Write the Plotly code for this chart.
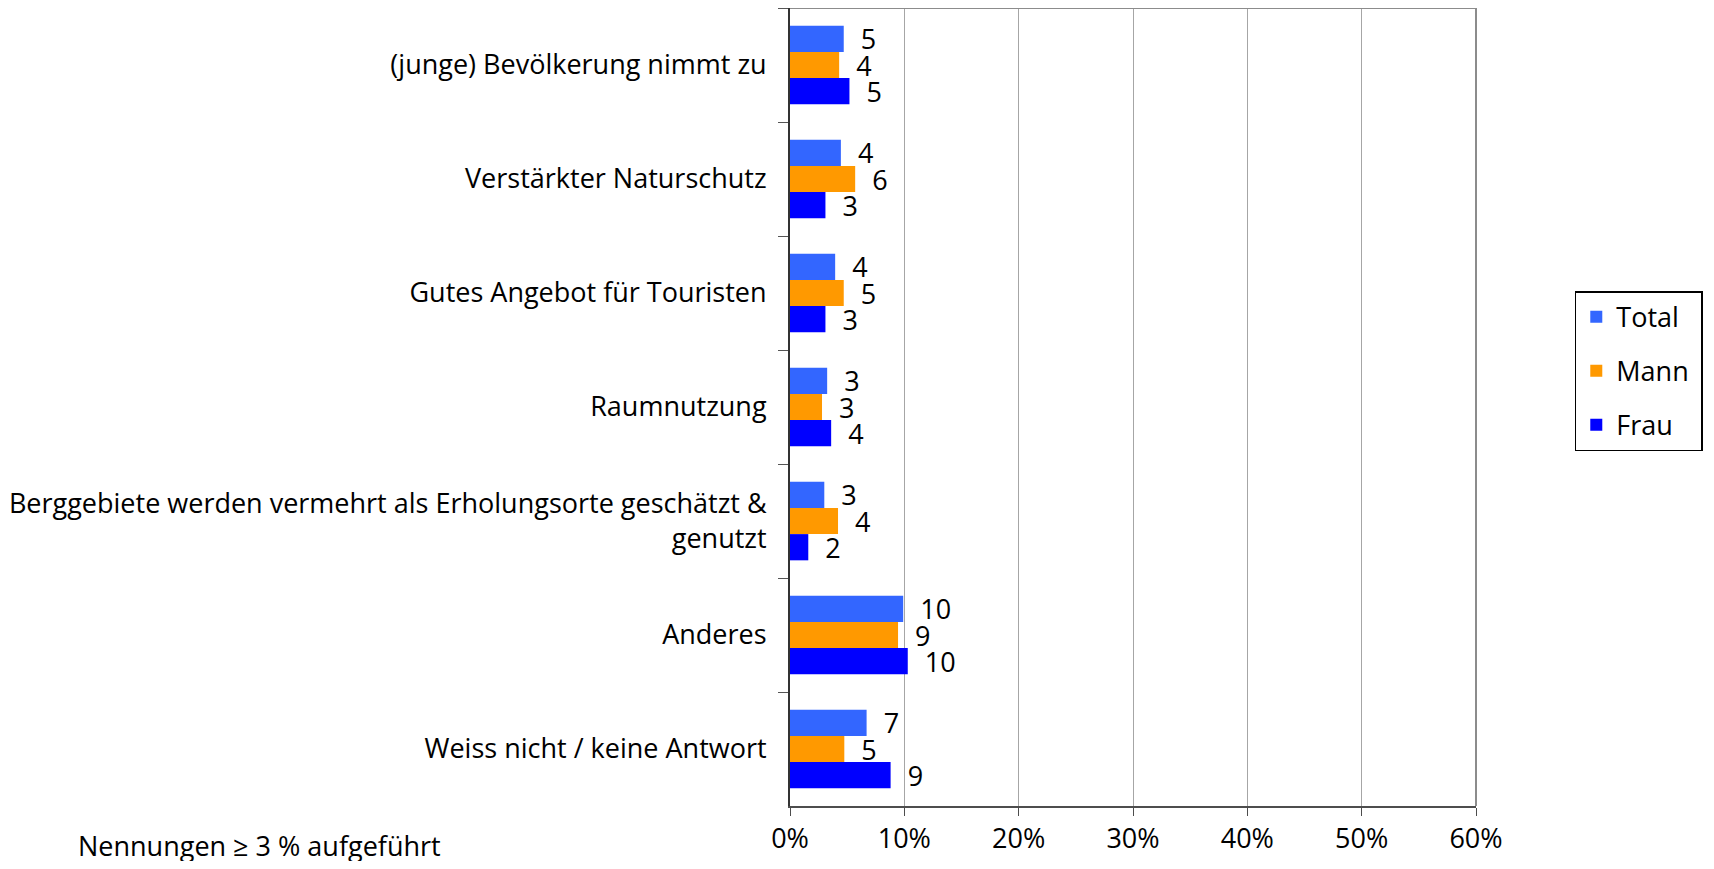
import plotly.graph_objects as go

categories = [
    "(junge) Bevölkerung nimmt zu",
    "Verstärkter Naturschutz",
    "Gutes Angebot für Touristen",
    "Raumnutzung",
    "Berggebiete werden vermehrt als Erholungsorte geschätzt &<br>genutzt",
    "Anderes",
    "Weiss nicht / keine Antwort",
]
total = [4.7, 4.45, 3.95, 3.25, 3.0, 9.9, 6.7]
mann = [4.3, 5.7, 4.7, 2.8, 4.2, 9.45, 4.75]
frau = [5.2, 3.1, 3.1, 3.6, 1.6, 10.3, 8.8]
x_ticks = [0, 10, 20, 30, 40, 50, 60]
x_labels = ["0%", "10%", "20%", "30%", "40%", "50%", "60%"]

FONT = "Open Sans, sans-serif"
FS = 27
series = [("Total", total, "#3366ff"), ("Mann", mann, "#ff9900"), ("Frau", frau, "#0000ff")]

fig = go.Figure()
for name, vals, col in series:
    fig.add_trace(go.Bar(
        y=categories, x=vals, name=name + "\u00a0", orientation="h",
        marker=dict(color=col, line=dict(width=0)),
        texttemplate="\u00a0\u00a0%{x:.0f}", textposition="outside",
        textfont=dict(size=FS, color="#000000", family=FONT),
        constraintext="none", cliponaxis=False,
        legendgroup=name,
    ))

# page body adds 8px around the figure, so size and margins allow for it
fig.update_layout(
    width=1698, height=853,
    plot_bgcolor="#ffffff", paper_bgcolor="#ffffff",
    font=dict(family=FONT, size=FS, color="#000000"),
    barmode="group", bargap=0.31, bargroupgap=0,
    margin=dict(l=782, r=230, t=0, b=55, autoexpand=False),
    showlegend=True,
    legend=dict(
        x=1.144, y=0.545, xanchor="left", yanchor="middle",
        bordercolor="#000000", borderwidth=1.5, bgcolor="#ffffff",
        font=dict(size=FS, family=FONT), tracegroupgap=16,
        traceorder="grouped",
    ),
    xaxis=dict(
        range=[0, 60], tickvals=x_ticks, ticktext=x_labels,
        showgrid=True, gridcolor="#a6a6a6", gridwidth=1,
        showline=True, linecolor="#4d4d4d", linewidth=2, mirror=False,
        ticks="outside", ticklen=8, tickcolor="#4d4d4d",
        tickfont=dict(size=FS), zeroline=False,
    ),
    yaxis=dict(
        autorange="reversed", tickson="boundaries",
        showline=True, linecolor="#333333", linewidth=2,
        ticks="outside", ticklen=10, tickcolor="#555555",
        tickfont=dict(size=FS), ticklabelstandoff=16,
    ),
)

# frame: top and right border
fig.add_shape(type="line", xref="paper", yref="paper", x0=0, x1=1, y0=1, y1=1,
              line=dict(color="#8c8c8c", width=2))
fig.add_shape(type="line", xref="paper", yref="paper", x0=1, x1=1, y0=0, y1=1,
              line=dict(color="#8c8c8c", width=2))

fig.add_annotation(text="Nennungen ≥ 3 % aufgeführt", xref="paper", yref="paper",
                   x=-1.041, y=-0.05, xanchor="left", yanchor="middle",
                   showarrow=False, font=dict(size=FS, family=FONT))

fig.write_html("out.html")
